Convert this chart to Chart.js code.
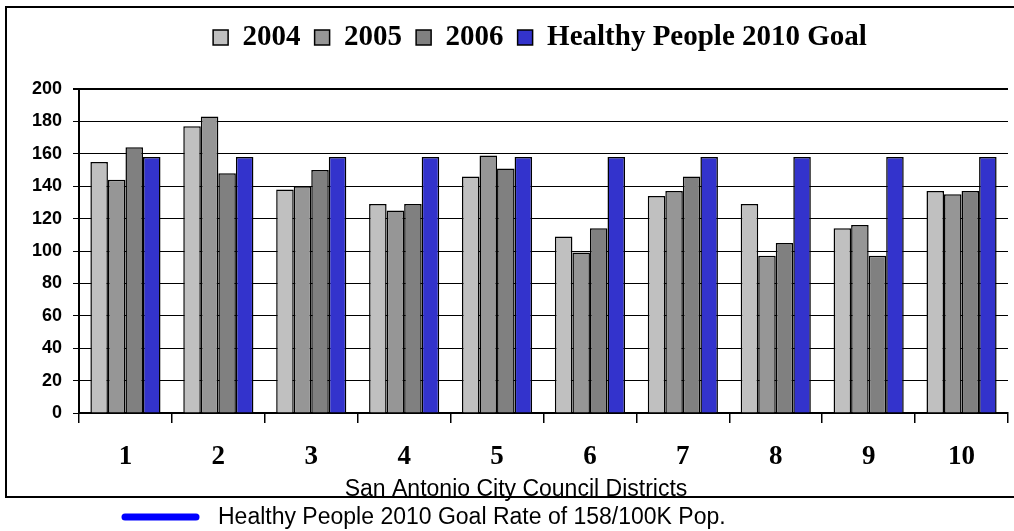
<!DOCTYPE html>
<html>
<head>
<meta charset="utf-8">
<script src="https://cdn.jsdelivr.net/npm/chart.js@4"></script>
<style>
  html, body { margin: 0; padding: 0; background: #fff; }
</style>
</head>
<body>
<canvas id="chart" width="1014" height="531"></canvas>
<script>
'use strict';

// data
const districts = ['1', '2', '3', '4', '5', '6', '7', '8', '9', '10'];
const rates2004 = [155, 177, 138, 129, 146, 109, 134, 129, 114, 137];
const rates2005 = [144, 183, 140, 125, 159, 99, 137, 97, 116, 135];
const rates2006 = [164, 148, 150, 129, 151, 114, 146, 105, 97, 137];
const goalRate = [158, 158, 158, 158, 158, 158, 158, 158, 158, 158];
const yTicks = [0, 20, 40, 60, 80, 100, 120, 140, 160, 180, 200];

const xTitle = 'San Antonio City Council Districts';
const goalNote = 'Healthy People 2010 Goal Rate of 158/100K Pop.';

const SERIF = '"Liberation Serif", "Times New Roman", serif';
const SANS = '"Liberation Sans", Arial, sans-serif';

let canvasElem = document.getElementById('chart');

// frame, axis title and the note under the chart
const chartFrame = {
  id: 'chartFrame',
  beforeInit(chart) {
    const fit = chart.legend.fit;
    chart.legend.fit = function () {
      fit.bind(chart.legend)();
      this.height = 80;
    };
  },
  afterLayout(chart) {
    // legend sits a bit right of the canvas centre in the original
    chart.legend.left += 36;
    chart.legend.right += 36;
  },
  beforeDraw(chart) {
    const ctx = chart.ctx;
    ctx.save();
    ctx.fillStyle = '#fff';
    ctx.fillRect(0, 0, chart.width, chart.height);
    ctx.strokeStyle = '#000';
    ctx.lineWidth = 2;
    ctx.strokeRect(6, 7, 1020, 490);
    ctx.restore();
  },
  afterDraw(chart) {
    const ctx = chart.ctx;
    ctx.save();
    ctx.fillStyle = '#000';
    ctx.font = '23px ' + SANS;
    ctx.textBaseline = 'alphabetic';
    ctx.textAlign = 'center';
    ctx.fillText(xTitle, 516, 496);

    ctx.strokeStyle = '#0000ff';
    ctx.lineWidth = 7;
    ctx.lineCap = 'round';
    ctx.beginPath();
    ctx.moveTo(125, 517);
    ctx.lineTo(196, 517);
    ctx.stroke();

    ctx.textAlign = 'left';
    ctx.fillText(goalNote, 218, 524);
    ctx.restore();
  }
};

function renderChart() {
  const chart = {
    type: 'bar',
    data: {
      labels: districts,
      datasets: [
        { label: '2004', data: rates2004, backgroundColor: '#c0c0c0' },
        { label: '2005', data: rates2005, backgroundColor: '#969696' },
        { label: '2006', data: rates2006, backgroundColor: '#808080' },
        { label: 'Healthy People 2010 Goal', data: goalRate, backgroundColor: '#3333cc' }
      ].map(ds => Object.assign(ds, {
        borderColor: '#000',
        borderWidth: 1.5,
        categoryPercentage: 0.755,
        barPercentage: 1
      }))
    },
    options: {
      responsive: false,
      animation: false,
      layout: { padding: { left: 0, right: 6, top: 9, bottom: 0 } },
      plugins: {
        legend: {
          position: 'top',
          labels: {
            color: '#000',
            font: { family: SERIF, size: 29, weight: 'bold' },
            boxWidth: 15,
            boxHeight: 15,
            padding: 14
          }
        },
        tooltip: { enabled: false }
      },
      scales: {
        x: {
          grid: {
            offset: true,
            drawOnChartArea: false,
            drawTicks: true,
            tickLength: 10,
            color: '#000',
            lineWidth: 1.5
          },
          border: { color: '#000', width: 2 },
          ticks: {
            color: '#000',
            padding: 18,
            font: { family: SERIF, size: 27, weight: 'bold' }
          },
          afterFit(scale) { scale.height = 118; }
        },
        y: {
          min: 0,
          max: 200,
          afterBuildTicks(scale) { scale.ticks = yTicks.map(v => ({ value: v })); },
          grid: {
            color: '#000',
            lineWidth: ctx => (ctx.tick && ctx.tick.value === 200 ? 2 : 1),
            tickLength: 6
          },
          border: { color: '#000', width: 2 },
          ticks: {
            color: '#000',
            padding: 11,
            font: { family: SANS, size: 18, weight: 'bold' }
          },
          afterFit(scale) { scale.width = 79; }
        }
      }
    },
    plugins: [chartFrame]
  };
  new Chart(canvasElem, chart);
}

renderChart();
</script>
</body>
</html>
